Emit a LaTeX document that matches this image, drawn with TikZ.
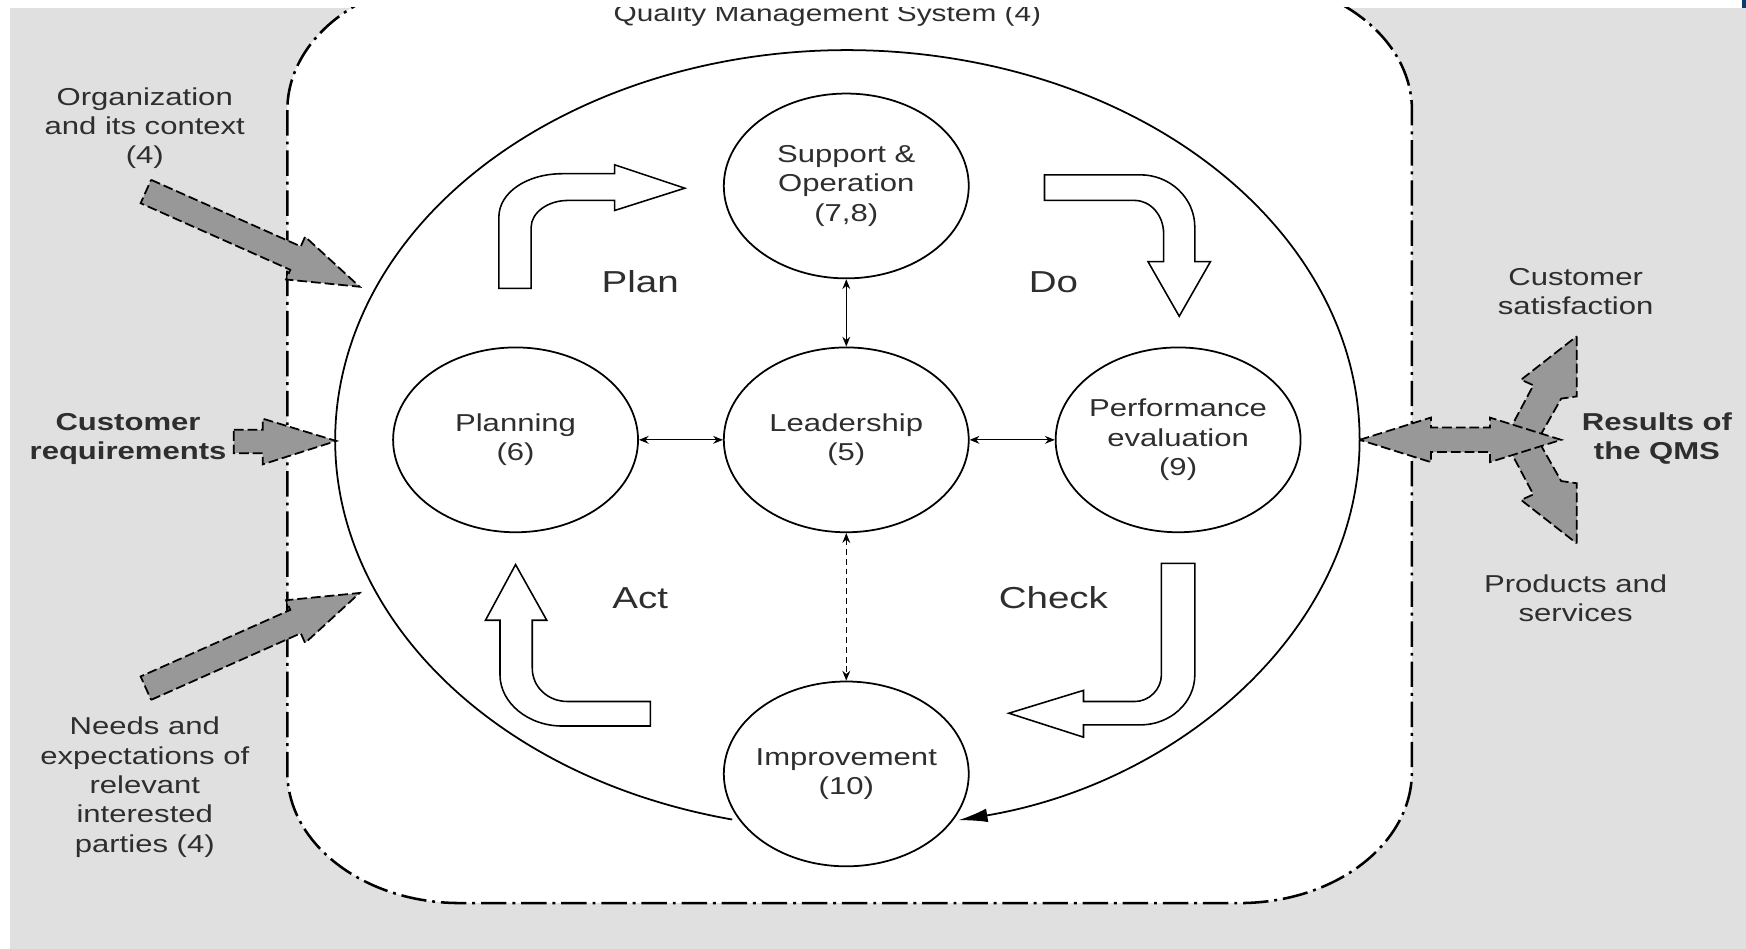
\documentclass[tikz,border=0pt]{standalone}
\usepackage{fontspec}
\setmainfont{Liberation Sans}[FakeStretch=1.27]
\usetikzlibrary{arrows.meta,shapes.geometric}
\definecolor{bggray}{HTML}{E0E0E0}
\definecolor{arrowgray}{HTML}{989898}
\definecolor{txtgray}{HTML}{2E2E2E}
\definecolor{cornerblue}{HTML}{0B3A6E}
\tikzset{
  stage/.style={draw, ellipse, line width=0.9pt, fill=white, inner sep=0pt,
    minimum width=4.4cm, minimum height=3.32cm},
  stagetext/.style={align=center, text=txtgray, font=\fontsize{12.5}{15}\selectfont},
  sidetext/.style={align=center, text=txtgray, font=\fontsize{12.5}{15}\selectfont},
  sidebold/.style={sidetext, font=\fontsize{12.5}{15}\selectfont\bfseries},
  phase/.style={text=txtgray, font=\fontsize{15.5}{18}\selectfont},
  link/.style={{Stealth[length=5pt,width=4pt]}-{Stealth[length=5pt,width=4pt]}, line width=0.6pt},
  hollow/.style={draw, fill=white, line width=0.8pt},
  input/.style={draw, fill=arrowgray, line width=0.9pt, dash pattern=on 5pt off 2pt},
  qms/.style={draw, fill=white, line width=1.3pt, dash pattern=on 13pt off 3pt on 1.5pt off 3pt},
}
\begin{document}
\begin{tikzpicture}[x=0.02cm, y=-0.02cm]
  \useasboundingbox (0,0) rectangle (1568,852);
  \fill[bggray] (9,7) rectangle (1568,852);
  \begin{scope}
    \clip (9,7) rectangle (1568,852);
    \draw[qms] (258,99) -- (258,693)
      arc[start angle=180, end angle=270, x radius=3.1cm, y radius=2.36cm] -- (1113,811)
      arc[start angle=270, end angle=360, x radius=3.1cm, y radius=2.36cm] -- (1268,99)
      arc[start angle=0, end angle=90, x radius=3.1cm, y radius=2.36cm] -- (413,-19)
      arc[start angle=90, end angle=180, x radius=3.1cm, y radius=2.36cm] -- cycle;
    \node[sidetext, font=\fontsize{12}{14}\selectfont, anchor=base] (title) at (743,19) {Quality Management System (4)};

    \coordinate (cycle) at (761,395);
    \draw[line width=0.9pt, -{Latex[length=15pt,width=7pt]}] (cycle) ++(257:9.2cm and 7cm)
      arc[start angle=257, end angle=-77.5, x radius=9.2cm, y radius=7cm];

    \node[stage, label={[stagetext]center:Support \&\\Operation\\(7,8)}] (support) at (760,167) {};
    \node[stage, label={[stagetext]center:Leadership\\(5)}] (lead) at (760,395) {};
    \node[stage, label={[stagetext]center:Planning\\(6)}] (planning) at (463,395) {};
    \node[stage, label={[stagetext]center:Performance\\evaluation\\(9)}] (perf) at (1058,395) {};
    \node[stage, label={[stagetext]center:Improvement\\(10)}] (improve) at (760,695) {};

    \draw[link] (support) -- (lead);
    \draw[link] (planning) -- (lead);
    \draw[link] (lead) -- (perf);
    \draw[link, densely dashed] (lead) -- (improve);

    \node[phase] (lplan) at (575,253) {Plan};
    \node[phase] (ldo) at (946,253) {Do};
    \node[phase] (lact) at (575,537) {Act};
    \node[phase] (lcheck) at (946,537) {Check};

    \draw[hollow] (448,259) -- (448,195) .. controls (448,173) and (473,156) .. (505,156)
      -- (552,156) -- (552,148) -- (615,169) -- (552,189) -- (552,180) -- (510,180)
      .. controls (492,180) and (477,191) .. (477,204) -- (477,259) -- cycle;
    \draw[hollow] (938,157) -- (1024,157) .. controls (1051,157) and (1073,178) .. (1073,204)
      -- (1073,235) -- (1087,235) -- (1059,284) -- (1031,235) -- (1045,235) -- (1045,210)
      .. controls (1045,193) and (1033,180) .. (1019,180) -- (938,180) -- cycle;
    \draw[hollow] (1043,506) -- (1073,506) -- (1073,606) .. controls (1073,631) and (1051,651) .. (1024,651)
      -- (973,651) -- (973,662) -- (906,640.5) -- (973,620) -- (973,630) -- (1019,630)
      .. controls (1032,630) and (1043,619) .. (1043,606) -- cycle;
    \draw[hollow] (584,630) -- (584,652) -- (505,652) .. controls (474,652) and (449,631) .. (449,606)
      -- (449,557) -- (436,557) -- (463,507) -- (491,557) -- (478,557) -- (478,600)
      .. controls (478,617) and (492,630) .. (510,630) -- cycle;

    \draw[input] (135.7,161.5) -- (270.1,221.3) -- (274,212.6) -- (323,257.5) -- (256.9,251)
      -- (260.7,242.3) -- (126.3,182.5) -- cycle;
    \draw[input] (210,386) -- (236,386) -- (236,376) -- (302,396) -- (236,417) -- (236,407)
      -- (210,407) -- cycle;
    \draw[input] (135.7,628.5) -- (270.1,568.7) -- (274,577.4) -- (323,532.5) -- (256.9,539)
      -- (260.7,547.7) -- (126.3,607.5) -- cycle;

    \draw[input] (1416,302) -- (1416,356) -- (1402,358) -- (1381,395) -- (1351,395)
      -- (1377,346) -- (1366,341) -- cycle;
    \draw[input] (1416,488) -- (1416,434) -- (1402,432) -- (1381,395) -- (1351,395)
      -- (1377,444) -- (1366,449) -- cycle;
    \draw[input] (1221,395) -- (1285,375) -- (1285,384) -- (1338,384) -- (1338,375) -- (1402,395)
      -- (1338,415) -- (1338,406) -- (1285,406) -- (1285,415) -- cycle;

    \node[sidetext] (orgctx) at (130,115) {Organization\\and its context\\(4)};
    \node[sidebold] (custreq) at (115,394) {Customer\\requirements};
    \node[sidetext] (needs) at (130,707) {Needs and\\expectations of\\relevant\\interested\\parties (4)};
    \node[sidetext] (custsat) at (1415,262) {Customer\\satisfaction};
    \node[sidebold] (results) at (1488,394) {Results of\\the QMS};
    \node[sidetext] (products) at (1415,537) {Products and\\services};
  \end{scope}
  \fill[cornerblue] (1564,0) rectangle (1568,7);
\end{tikzpicture}
\end{document}
